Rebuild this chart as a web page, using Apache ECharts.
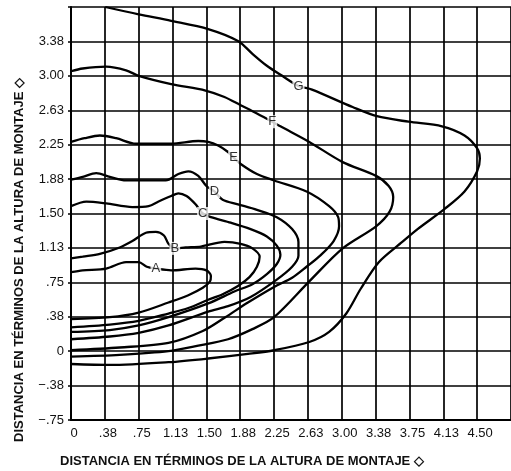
<!DOCTYPE html>
<html>
<head>
<meta charset="utf-8">
<script src="https://cdn.jsdelivr.net/npm/echarts@6/dist/echarts.min.js"></script>
<style>
html,body{margin:0;padding:0;background:#fff;}
#chart{width:511px;height:471px;}
</style>
</head>
<body>
<div id="chart"></div>
<script>
// Tick labels
const xTickLabels = ['0', '.38', '.75', '1.13', '1.50', '1.88', '2.25', '2.63', '3.00', '3.38', '3.75', '4.13', '4.50'];
const yTickLabels = ['\u2212.75', '\u2212.38', '0', '.38', '.75', '1.13', '1.50', '1.88', '2.25', '2.63', '3.00', '3.38'];
const axisTitle = 'DISTANCIA EN T\u00c9RMINOS DE LA ALTURA DE MONTAJE \u25c7';

// Curves (x, y in mounting-height units)
const curveNames = ['A', 'B', 'C', 'D', 'E', 'F', 'G'];
const curveA = [[0,0.86],[0.13,0.88],[0.39,0.90],[0.61,0.97],[0.75,0.97],[0.84,0.92],[0.94,0.90],[1.11,0.88],[1.38,0.90],[1.50,0.88],[1.55,0.82],[1.54,0.76],[1.46,0.69],[1.30,0.61],[1.08,0.53],[0.75,0.42],[0.43,0.37],[0,0.35]];
const curveB = [[0,1.01],[0.13,1.03],[0.32,1.06],[0.54,1.13],[0.68,1.20],[0.83,1.29],[0.94,1.30],[1.03,1.26],[1.08,1.17],[1.15,1.12],[1.27,1.13],[1.44,1.14],[1.70,1.19],[1.88,1.17],[2.01,1.12],[2.09,1.03],[2.06,0.92],[1.98,0.81],[1.85,0.71],[1.68,0.62],[1.52,0.56],[1.30,0.47],[1.08,0.41],[0.75,0.33],[0.43,0.29],[0,0.26]];
const curveC = [[0,1.58],[0.17,1.63],[0.39,1.61],[0.68,1.57],[0.86,1.58],[0.97,1.63],[1.11,1.69],[1.19,1.72],[1.28,1.69],[1.38,1.60],[1.46,1.50],[1.55,1.46],[1.77,1.40],[1.99,1.33],[2.17,1.25],[2.28,1.15],[2.32,1.05],[2.28,0.95],[2.17,0.84],[2.01,0.73],[1.81,0.65],[1.52,0.52],[1.08,0.37],[0.75,0.28],[0.43,0.23],[0,0.21]];
const curveD = [[0,1.87],[0.13,1.90],[0.28,1.94],[0.43,1.90],[0.61,1.86],[1.05,1.86],[1.19,1.93],[1.30,1.96],[1.41,1.91],[1.50,1.80],[1.59,1.74],[1.68,1.65],[1.85,1.60],[2.06,1.54],[2.28,1.46],[2.45,1.33],[2.52,1.19],[2.52,1.04],[2.45,0.92],[2.28,0.78],[1.99,0.59],[1.74,0.49],[1.52,0.43],[1.08,0.28],[0.75,0.20],[0.43,0.16],[0,0.13]];
const curveE = [[0,2.28],[0.15,2.32],[0.32,2.35],[0.50,2.32],[0.72,2.26],[1.11,2.26],[1.41,2.29],[1.52,2.28],[1.63,2.24],[1.74,2.17],[1.80,2.11],[1.88,2.04],[2.06,1.93],[2.25,1.86],[2.61,1.74],[2.86,1.58],[2.96,1.46],[2.97,1.36],[2.91,1.20],[2.77,1.05],[2.61,0.92],[2.45,0.80],[2.25,0.70],[1.96,0.53],[1.71,0.37],[1.46,0.22],[1.08,0.09],[0.54,0.04],[0,0.01]];
const curveF = [[0,3.05],[0.13,3.08],[0.39,3.10],[0.61,3.06],[0.75,3.00],[1.11,2.91],[1.49,2.84],[1.70,2.77],[1.88,2.68],[2.06,2.59],[2.23,2.50],[2.32,2.45],[2.64,2.28],[3.01,2.06],[3.38,1.91],[3.52,1.80],[3.57,1.68],[3.53,1.52],[3.38,1.36],[3.01,1.12],[2.64,0.76],[2.25,0.37],[2.01,0.24],[1.74,0.13],[1.41,0.06],[1.08,0.00],[0.54,-0.04],[0,-0.06]];
const curveG = [[0.38,3.75],[0.75,3.67],[1.11,3.60],[1.52,3.51],[1.85,3.38],[2.01,3.24],[2.17,3.11],[2.34,3.00],[2.52,2.89],[2.67,2.85],[3.12,2.66],[3.39,2.56],[3.74,2.50],[4.11,2.45],[4.36,2.35],[4.50,2.21],[4.53,2.10],[4.50,1.96],[4.36,1.74],[4.14,1.55],[3.84,1.33],[3.67,1.19],[3.41,0.97],[3.21,0.68],[3.05,0.41],[2.86,0.21],[2.64,0.10],[2.25,0.01],[1.96,-0.03],[1.52,-0.08],[1.08,-0.12],[0.43,-0.15],[0,-0.14]];
// index of the point on each curve where its letter sits
const labelIndex = [6, 9, 10, 10, 10, 10, 8];

const curves = [curveA, curveB, curveC, curveD, curveE, curveF, curveG];
const STEP = 0.375, XMIN = 0, YMIN = -0.75;
const FONT = '"Liberation Sans", Arial, Helvetica, sans-serif';

const chart = echarts.init(document.getElementById('chart'), null, {renderer: 'canvas'});

const series = curves.map((c, i) => ({
  type: 'line',
  name: curveNames[i],
  data: c,
  smooth: 0.3,
  showSymbol: false,
  symbol: 'none',
  lineStyle: {color: '#000', width: 2.3},
  z: 3,
  silent: true,
  animation: false
}));

series.push({
  type: 'scatter',
  data: curves.map((c, i) => [c[labelIndex[i]][0], c[labelIndex[i]][1], curveNames[i]]),
  symbolSize: 1,
  itemStyle: {color: 'rgba(0,0,0,0)'},
  z: 10,
  silent: true,
  animation: false,
  label: {
    show: true,
    position: 'inside',
    formatter: p => p.value[2],
    color: '#000',
    fontSize: 13,
    fontFamily: FONT,
    backgroundColor: '#fff',
    padding: [0, 1, 0, 1]
  }
});

chart.setOption({
  animation: false,
  backgroundColor: '#fff',
  grid: {left: 71, right: -6, top: 7, bottom: 51, containLabel: false},
  xAxis: {
    type: 'value',
    min: XMIN, max: 4.875, interval: STEP,
    axisLine: {show: true, onZero: false, lineStyle: {color: '#000', width: 2}},
    axisTick: {show: false},
    splitLine: {show: true, lineStyle: {color: '#000', width: 1.7}},
    axisLabel: {
      color: '#111', fontSize: 13, fontFamily: FONT, margin: 7,
      padding: [0, 0, 0, 6],
      showMaxLabel: false,
      formatter: v => { const k = Math.round((v - XMIN) / STEP); return (Math.abs(v - (XMIN + k * STEP)) < 1e-6 && xTickLabels[k] !== undefined) ? xTickLabels[k] : ''; }
    }
  },
  yAxis: {
    type: 'value',
    min: YMIN, max: 3.75, interval: STEP,
    axisLine: {show: true, onZero: false, lineStyle: {color: '#000', width: 2}},
    axisTick: {show: true, length: 3, lineStyle: {color: '#000', width: 1.5}},
    splitLine: {show: true, lineStyle: {color: '#000', width: 1.7}},
    axisLabel: {
      color: '#111', fontSize: 13, fontFamily: FONT, margin: 7,
      formatter: v => { const k = Math.round((v - YMIN) / STEP); return (yTickLabels[k] !== undefined) ? yTickLabels[k] : ''; }
    }
  },
  graphic: [
    {
      type: 'text', left: 60, top: 455,
      style: {text: axisTitle, fill: '#111', font: 'bold 13px ' + FONT}
    },
    {
      type: 'text', x: 13, y: 260, rotation: Math.PI / 2,
      style: {text: axisTitle, fill: '#111', font: 'bold 13px ' + FONT, textAlign: 'center', textVerticalAlign: 'top'}
    }
  ],
  series: series
});
</script>
</body>
</html>
